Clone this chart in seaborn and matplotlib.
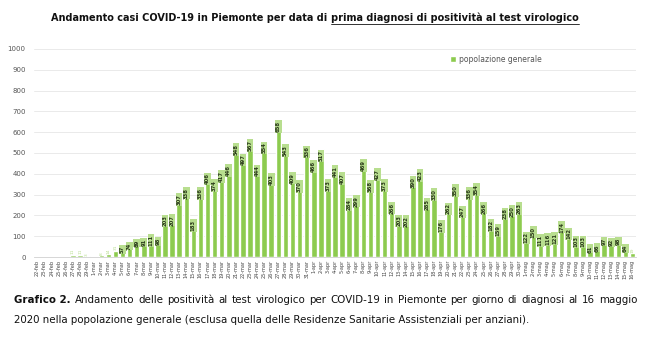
import matplotlib
matplotlib.use("Agg")
import matplotlib.pyplot as plt
import seaborn as sns
import pandas as pd

feb_days = [22, 23, 24, 25, 26, 27, 28, 29]
feb_vals = [1, 0, 0, 1, 1, 11, 11, 3]
mar_vals = [2, 8, 14, 31, 57, 74, 89, 91, 111, 98, 203, 207, 307, 338, 183, 336,
            406, 374, 417, 446, 548, 497, 567, 444, 554, 403, 658, 543, 409, 370, 536]
apr_vals = [466, 517, 373, 441, 407, 284, 299, 469, 368, 427, 373, 266, 203, 202, 390,
            423, 285, 330, 176, 262, 350, 247, 336, 354, 266, 182, 159, 238, 250, 263]
mag_vals = [122, 150, 111, 116, 121, 174, 142, 103, 103, 61, 66, 97, 92, 98, 64, 19]

labels = ([f"{d}-feb" for d in feb_days] +
          [f"{d}-mar" for d in range(1, 32)] +
          [f"{d}-apr" for d in range(1, 31)] +
          [f"{d}-mag" for d in range(1, 17)])
values = feb_vals + mar_vals + apr_vals + mag_vals

df = pd.DataFrame({"data": labels, "casi": values})

sns.set_theme(style="white")
plt.rcParams['font.family'] = ['DejaVu Sans']

W, H = 650, 358
fig = plt.figure(figsize=(6.5, 3.58), dpi=100)
ax = fig.add_axes([34 / W, (H - 257) / H, (636 - 34) / W, (257 - 49) / H])

sns.barplot(data=df, x="data", y="casi", color="#8dcb4f", saturation=1,
            width=0.78, ax=ax, label="popolazione generale", zorder=3)

ax.set_ylim(0, 1000)
ax.set_xlim(-0.5, len(labels) - 0.5)
ax.set_yticks(range(0, 1001, 100))
ax.yaxis.grid(True, color="#e6e6e6", linewidth=0.6, zorder=0)
ax.xaxis.grid(False)
for s in ax.spines.values():
    s.set_visible(False)
ax.spines['bottom'].set_visible(True)
ax.spines['bottom'].set_color("#d0d0d0")
ax.spines['bottom'].set_linewidth(0.6)
ax.tick_params(axis='y', labelsize=5, colors="#555555", length=0, pad=6)
ax.tick_params(axis='x', labelsize=3.6, colors="#444444", length=0, pad=2)
ax.set_xticks(range(len(labels)))
ax.set_xticklabels(labels, rotation=90)
ax.set_xlabel("")
ax.set_ylabel("")

for i, v in enumerate(values):
    if v >= 40:
        ax.text(i, v - 4, str(v), rotation=90, ha="center", va="top",
                fontsize=3.8, fontweight="bold", color="#2a3a1a", zorder=5,
                bbox=dict(boxstyle="square,pad=0.15", fc="#b8de8f", ec="none"))
    elif v > 2:
        ax.text(i, v + 2, str(v), rotation=90, ha="center", va="bottom",
                fontsize=3.2, color="#b8de8f", zorder=5)

leg = ax.legend(loc="upper left", bbox_to_anchor=(0.68, 1.005), frameon=False,
                fontsize=5.5, handlelength=0.7, handleheight=0.7, handletextpad=0.4)
for t in leg.get_texts():
    t.set_color("#555555")

fig.canvas.draw()
r = fig.canvas.get_renderer()

# Title with underlined part
t1 = "Andamento casi COVID-19 in Piemonte per data di "
t2 = "prima diagnosi di positività al test virologico"
a = fig.text(0, 0, t1, fontsize=7.0, fontweight="bold", color="#111111")
b = fig.text(0, 0, t2, fontsize=7.0, fontweight="bold", color="#111111")
wa = a.get_window_extent(r).width
wb = b.get_window_extent(r).width
x0 = (W / 2 - (wa + wb) / 2) - 10
y0 = H - 21
a.set_position((x0 / W, y0 / H))
b.set_position(((x0 + wa) / W, y0 / H))
fig.lines.append(plt.Line2D([(x0 + wa) / W, (x0 + wa + wb) / W],
                            [(y0 - 2.5) / H, (y0 - 2.5) / H],
                            transform=fig.transFigure, color="#111111", linewidth=0.6))

# Caption, first line justified
fs = 7.4
line1 = ["Grafico 2."] + ("Andamento delle positività al test virologico per COVID-19 "
                          "in Piemonte per giorno di diagnosi al 16 maggio").split()
objs = []
for k, wtxt in enumerate(line1):
    o = fig.text(0, (H - 303) / H, wtxt, fontsize=fs,
                 fontweight="bold" if k == 0 else "normal", color="#111111",
                 va="baseline")
    objs.append(o)
widths = [o.get_window_extent(r).width for o in objs]
left, right = 14, 637
gap = (right - left - sum(widths)) / (len(objs) - 1)
x = left
for o, w in zip(objs, widths):
    o.set_x(x / W)
    x += w + gap
fig.text(left / W, (H - 323) / H,
         "2020 nella popolazione generale (esclusa quella delle Residenze Sanitarie Assistenziali per anziani).",
         fontsize=fs, color="#111111", va="baseline")

fig.savefig("out.png", dpi=100)
